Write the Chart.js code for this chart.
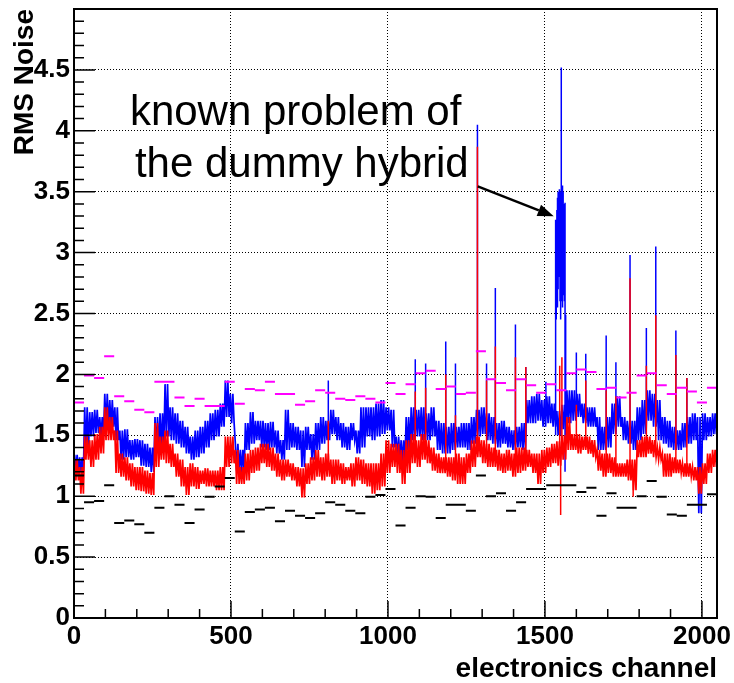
<!DOCTYPE html>
<html>
<head>
<meta charset="utf-8">
<script src="https://cdn.jsdelivr.net/npm/chart.js@4/dist/chart.umd.min.js"></script>
<style>
  html, body { margin: 0; padding: 0; background: #fff; }
</style>
</head>
<body>
<canvas id="rmsNoise" width="734" height="683"></canvas>
<script>
// noise per group of 16 channels: upper and lower edge of the band
const BIN = 16;
const blueHi = [1.34, 1.32, 1.73, 1.69, 1.71, 1.65, 1.84, 1.79, 1.73, 1.54, 1.55, 1.46, 1.47, 1.46, 1.43, 1.40,
  1.65, 1.68, 1.92, 1.73, 1.68, 1.62, 1.57, 1.49, 1.54, 1.57, 1.62, 1.68, 1.71, 1.76, 1.95, 1.84,
  1.43, 1.38, 1.60, 1.69, 1.62, 1.62, 1.60, 1.61, 1.54, 1.46, 1.71, 1.60, 1.57, 1.54, 1.57, 1.51,
  1.60, 1.65, 1.62, 1.71, 1.65, 1.60, 1.57, 1.60, 1.54, 1.73, 1.73, 1.73, 1.76, 1.79, 1.73, 1.71,
  1.49, 1.46, 1.65, 1.73, 1.71, 1.73, 1.68, 1.73, 1.62, 1.60, 1.57, 1.60, 1.57, 1.60, 1.60, 1.65,
  1.71, 1.73, 1.68, 1.65, 1.60, 1.62, 1.57, 1.54, 1.57, 1.60, 1.79, 1.82, 1.84, 1.79, 1.82, 1.76,
  1.70, 1.75, 1.87, 1.87, 1.84, 1.76, 1.73, 1.73, 1.65, 1.57, 1.65, 1.76, 1.82, 1.65, 1.62, 1.62,
  1.73, 1.79, 1.87, 1.84, 1.79, 1.65, 1.62, 1.57, 1.54, 1.60, 1.65, 1.68, 1.65, 1.68, 1.65, 1.68];
const blueLo = [1.22, 1.20, 1.38, 1.49, 1.52, 1.49, 1.57, 1.57, 1.46, 1.30, 1.32, 1.30, 1.32, 1.25, 1.24, 1.20,
  1.38, 1.40, 1.49, 1.46, 1.43, 1.40, 1.35, 1.30, 1.32, 1.35, 1.40, 1.46, 1.49, 1.57, 1.65, 1.60,
  1.21, 1.20, 1.38, 1.43, 1.46, 1.40, 1.38, 1.40, 1.35, 1.30, 1.38, 1.40, 1.38, 1.24, 1.38, 1.30,
  1.38, 1.43, 1.46, 1.51, 1.46, 1.40, 1.38, 1.46, 1.35, 1.40, 1.49, 1.46, 1.49, 1.51, 1.54, 1.40,
  1.30, 1.27, 1.38, 1.46, 1.49, 1.46, 1.46, 1.49, 1.38, 1.35, 1.35, 1.38, 1.40, 1.40, 1.38, 1.43,
  1.49, 1.51, 1.46, 1.43, 1.40, 1.43, 1.40, 1.38, 1.40, 1.38, 1.60, 1.60, 1.62, 1.57, 1.60, 1.57,
  1.50, 1.55, 1.60, 1.62, 1.65, 1.60, 1.57, 1.57, 1.38, 1.38, 1.40, 1.51, 1.57, 1.46, 1.43, 1.38,
  1.46, 1.51, 1.62, 1.57, 1.46, 1.43, 1.40, 1.38, 1.38, 1.40, 1.43, 1.46, 0.86, 1.46, 1.49, 1.51];
const redHi = [1.30, 1.24, 1.49, 1.46, 1.51, 1.57, 1.73, 1.65, 1.54, 1.35, 1.32, 1.27, 1.24, 1.24, 1.21, 1.19,
  1.60, 1.49, 1.54, 1.43, 1.35, 1.30, 1.24, 1.27, 1.24, 1.21, 1.23, 1.21, 1.21, 1.24, 1.49, 1.49,
  1.38, 1.24, 1.35, 1.38, 1.40, 1.43, 1.43, 1.40, 1.35, 1.30, 1.30, 1.27, 1.24, 1.23, 1.27, 1.32,
  1.38, 1.32, 1.35, 1.30, 1.30, 1.27, 1.24, 1.27, 1.32, 1.30, 1.27, 1.27, 1.27, 1.35, 1.46, 1.43,
  1.43, 1.38, 1.46, 1.51, 1.46, 1.51, 1.46, 1.40, 1.35, 1.32, 1.32, 1.32, 1.35, 1.32, 1.35, 1.46,
  1.49, 1.46, 1.43, 1.40, 1.38, 1.35, 1.38, 1.35, 1.40, 1.40, 1.38, 1.35, 1.35, 1.38, 1.40, 1.43,
  1.45, 1.50, 1.65, 1.51, 1.51, 1.49, 1.49, 1.46, 1.38, 1.35, 1.35, 1.32, 1.27, 1.27, 1.30, 1.30,
  1.46, 1.49, 1.49, 1.46, 1.40, 1.35, 1.35, 1.32, 1.30, 1.27, 1.27, 1.24, 1.24, 1.27, 1.35, 1.38];
const redLo = [1.13, 1.02, 1.30, 1.24, 1.30, 1.35, 1.46, 1.46, 1.19, 1.16, 1.13, 1.08, 1.05, 1.04, 1.02, 1.01,
  1.24, 1.30, 1.27, 1.24, 1.16, 1.08, 1.01, 1.08, 1.06, 1.10, 1.08, 1.08, 1.05, 1.05, 1.24, 1.27,
  1.10, 1.10, 1.13, 1.19, 1.21, 1.27, 1.24, 1.21, 1.16, 1.13, 1.16, 1.13, 1.08, 0.99, 1.10, 1.13,
  1.16, 1.13, 1.16, 1.10, 1.13, 1.10, 1.13, 1.08, 1.13, 1.10, 1.08, 1.02, 1.05, 1.08, 1.19, 1.24,
  1.19, 1.10, 1.19, 1.27, 1.24, 1.30, 1.27, 1.21, 1.19, 1.19, 1.16, 1.13, 1.10, 1.10, 1.19, 1.24,
  1.32, 1.27, 1.24, 1.24, 1.21, 1.19, 1.21, 1.16, 1.19, 1.21, 1.24, 1.19, 1.10, 1.19, 1.24, 1.27,
  1.25, 1.30, 1.38, 1.38, 1.35, 1.38, 1.35, 1.32, 1.21, 1.16, 1.19, 1.16, 1.16, 1.16, 1.13, 1.05,
  1.32, 1.32, 1.35, 1.32, 1.30, 1.16, 1.16, 1.19, 1.19, 1.16, 1.16, 1.13, 1.02, 1.10, 1.19, 1.24];

// single noisy channels: channel and value reached
const blueSpikeCh = [810, 1087, 1120, 1184, 1215, 1285, 1314, 1342, 1406, 1439, 1503, 1600, 1630, 1695, 1726, 1771, 1823, 1853, 1917, 1952];
const blueSpikeTop = [1.95, 2.125, 2.09, 2.27, 2.09, 4.05, 2.09, 2.71, 2.41, 2.06, 1.94, 2.18, 2.17, 2.32, 2.10, 2.98, 2.38, 3.05, 2.36, 1.97];
const redSpikeCh = [810, 1087, 1120, 1184, 1215, 1285, 1314, 1342, 1406, 1439, 1547, 1550, 1554, 1600, 1630, 1695, 1726, 1771, 1781, 1823, 1853, 1917, 1952];
const redSpikeTop = [1.62, 1.86, 1.89, 2.0, 1.665, 3.87, 1.95, 2.23, 2.14, 2.06, 2.07, 0.845, 2.14, 1.75, 1.95, 1.87, 1.82, 2.79, 0.995, 2.07, 2.485, 2.16, 1.97];

// the dummy hybrid channels
const hybridCh = [1534, 1536, 1538, 1540, 1542, 1544, 1546, 1548, 1550, 1552, 1554, 1556, 1558, 1560, 1562, 1564, 1566];
const hybridLo = [1.50, 2.45, 2.60, 2.55, 2.70, 2.80, 2.95, 2.60, 2.45, 2.60, 2.70, 2.55, 2.65, 2.80, 2.60, 1.20, 1.50];
const hybridHi = [3.27, 3.05, 3.35, 3.45, 3.50, 3.48, 3.52, 3.50, 3.40, 4.52, 3.50, 3.55, 3.50, 3.40, 3.30, 3.41, 2.49];

// reference levels per chip of 32 channels
const CHIP = 32;
const magentaLevel = [1.77, 1.99, 1.97, 2.15, 1.82, 1.78, 1.71, 1.69, 1.94, 1.94, 1.81, 1.74, 1.80, 1.74, 1.74, 1.94,
  1.76, 1.88, 1.87, 1.94, 1.84, 1.84, 1.75, 1.78, 1.87, 1.85, 1.80, 1.79, 1.82, 1.80, 1.77, 1.93,
  1.84, 1.92, 2.01, 2.03, 1.88, 1.90, 1.84, 1.85, 2.19, 1.96, 1.93, 1.87, 1.96, 1.91, 1.85, 1.92,
  1.87, 2.01, 2.04, 2.02, 1.88, 1.89, 1.81, 1.85, 1.99, 2.01, 1.91, 1.84, 1.89, 1.86, 1.77, 1.89];
const blackLevel = [1.17, 0.95, 0.96, 1.09, 0.78, 0.80, 0.77, 0.70, 0.905, 1.00, 0.93, 0.78, 0.89, 0.995, 1.08, 1.15,
  0.71, 0.87, 0.89, 0.905, 0.795, 0.88, 0.84, 0.82, 0.86, 0.95, 0.93, 0.88, 0.86, 0.995, 1.01, 1.06,
  0.76, 0.905, 1.00, 0.995, 0.82, 0.93, 0.93, 0.88, 1.17, 1.00, 1.025, 0.88, 0.95, 1.06, 1.06, 1.09,
  1.09, 1.09, 1.035, 1.07, 0.84, 1.025, 0.905, 0.905, 1.00, 1.125, 0.995, 0.85, 0.84, 0.93, 0.93, 1.015];

const xTickValues = [0, 500, 1000, 1500, 2000];
const yTickValues = [0, 0.5, 1, 1.5, 2, 2.5, 3, 3.5, 4, 4.5];

// annotation, in data units
const noteLines = ['known problem of', 'the dummy hybrid'];
const noteX = [178, 194];
const noteY = [4.044, 3.618];
const arrowFrom = [1286, 3.544];
const arrowTo = [1528, 3.298];

const FONT = '"Liberation Sans", Arial, Helvetica, sans-serif';

// each group drawn as a dense zig-zag between its upper and lower edge
function bandPoints(hi, lo) {
    return hi.flatMap((h, b) => [
        {x: b * BIN + 2, y: h}, {x: b * BIN + 6, y: lo[b]},
        {x: b * BIN + 10, y: h}, {x: b * BIN + 14, y: lo[b]}
    ]);
}

function spikePoints(ch, top, hi, lo) {
    const pts = [];
    ch.forEach((c, i) => {
        const b = Math.floor(c / BIN);
        pts.push({x: c, y: (hi[b] + lo[b]) / 2}, {x: c, y: top[i]}, {x: c, y: null});
    });
    return pts;
}

function levelPoints(levels) {
    return levels.flatMap((v, i) => [{x: i * CHIP, y: v}, {x: (i + 1) * CHIP, y: v}, {x: (i + 1) * CHIP, y: null}]);
}

const hybridPoints = hybridCh.flatMap((c, i) => [{x: c, y: hybridLo[i]}, {x: c, y: hybridHi[i]}, {x: c, y: null}]);

function lineSet(data, color, width) {
    return {data, borderColor: color, borderWidth: width, pointRadius: 0, fill: false, tension: 0, spanGaps: false};
}

// ticks pointing inside the frame, then the frame itself
const frame = {
    id: 'frame',
    afterDatasetsDraw(chart) {
        const {ctx, chartArea: a, scales: {x, y}} = chart;
        ctx.save();
        ctx.strokeStyle = '#000';
        ctx.lineWidth = 1.5;
        ctx.beginPath();
        for (let v = 0; v <= 2048; v += 100) {
            const px = x.getPixelForValue(v);
            const len = v % 500 === 0 ? 17 : 9;
            ctx.moveTo(px, a.bottom);
            ctx.lineTo(px, a.bottom - len);
        }
        for (let k = 0; k <= 50; k++) {
            const py = y.getPixelForValue(k / 10);
            const len = k % 5 === 0 ? 21 : 10;
            ctx.moveTo(a.left, py);
            ctx.lineTo(a.left + len, py);
        }
        ctx.stroke();
        ctx.lineWidth = 2;
        ctx.strokeRect(a.left, a.top, a.right - a.left, a.bottom - a.top);
        ctx.restore();
    }
};

const annotation = {
    id: 'annotation',
    afterDraw(chart) {
        const {ctx, scales: {x, y}} = chart;
        ctx.save();
        ctx.fillStyle = '#000';
        ctx.strokeStyle = '#000';
        ctx.font = '42px ' + FONT;
        ctx.textBaseline = 'alphabetic';
        noteLines.forEach((t, i) => ctx.fillText(t, x.getPixelForValue(noteX[i]), y.getPixelForValue(noteY[i])));

        const x0 = x.getPixelForValue(arrowFrom[0]), y0 = y.getPixelForValue(arrowFrom[1]);
        const x1 = x.getPixelForValue(arrowTo[0]), y1 = y.getPixelForValue(arrowTo[1]);
        const ang = Math.atan2(y1 - y0, x1 - x0);
        const head = 16, half = 6;
        const bx = x1 - head * Math.cos(ang), by = y1 - head * Math.sin(ang);
        ctx.lineWidth = 2.5;
        ctx.beginPath();
        ctx.moveTo(x0, y0);
        ctx.lineTo(bx, by);
        ctx.stroke();
        ctx.beginPath();
        ctx.moveTo(x1, y1);
        ctx.lineTo(bx + half * Math.sin(ang), by - half * Math.cos(ang));
        ctx.lineTo(bx - half * Math.sin(ang), by + half * Math.cos(ang));
        ctx.closePath();
        ctx.fill();
        ctx.restore();
    }
};

const tickFont = {family: FONT, size: 26, weight: 'bold'};
const titleFont = {family: FONT, size: 28, weight: 'bold', lineHeight: 1};

new Chart(document.getElementById('rmsNoise'), {
    type: 'line',
    data: {
        datasets: [
            lineSet(levelPoints(blackLevel), '#000000', 2),
            lineSet(levelPoints(magentaLevel), '#ff00ff', 2),
            lineSet(spikePoints(redSpikeCh, redSpikeTop, redHi, redLo), '#ff0000', 1.5),
            lineSet(bandPoints(redHi, redLo), '#ff0000', 1.7),
            lineSet(hybridPoints, '#0000ff', 1.5),
            lineSet(spikePoints(blueSpikeCh, blueSpikeTop, blueHi, blueLo), '#0000ff', 1.5),
            lineSet(bandPoints(blueHi, blueLo), '#0000ff', 1.7),
        ]
    },
    options: {
        responsive: false,
        animation: false,
        layout: {padding: {top: 9, right: 17, left: 0, bottom: 0}},
        scales: {
            x: {
                type: 'linear',
                min: 0,
                max: 2048,
                offset: false,
                afterBuildTicks: s => { s.ticks = xTickValues.map(v => ({value: v})); },
                afterFit: s => { s.height = 65; s.paddingLeft = 0; s.paddingRight = 0; },
                grid: {color: '#000', lineWidth: 1, drawTicks: false},
                border: {display: false, dash: [1, 2]},
                ticks: {font: tickFont, color: '#000', padding: 3, autoSkip: false, maxRotation: 0, callback: v => String(v)},
                title: {display: true, text: 'electronics channel', align: 'end', color: '#000', font: titleFont, padding: {top: 0, bottom: 0}}
            },
            y: {
                type: 'linear',
                min: 0,
                max: 5,
                afterBuildTicks: s => { s.ticks = yTickValues.map(v => ({value: v})); },
                afterFit: s => { s.width = 74; s.paddingTop = 0; s.paddingBottom = 0; },
                grid: {color: '#000', lineWidth: 1, drawTicks: false},
                border: {display: false, dash: [1, 2]},
                ticks: {font: tickFont, color: '#000', padding: 4, autoSkip: false, callback: v => String(v)},
                title: {display: true, text: 'RMS Noise', align: 'end', color: '#000', font: titleFont, padding: {top: 11, bottom: 0}}
            }
        },
        plugins: {
            legend: {display: false},
            tooltip: {enabled: false}
        }
    },
    plugins: [frame, annotation]
});
</script>
</body>
</html>
